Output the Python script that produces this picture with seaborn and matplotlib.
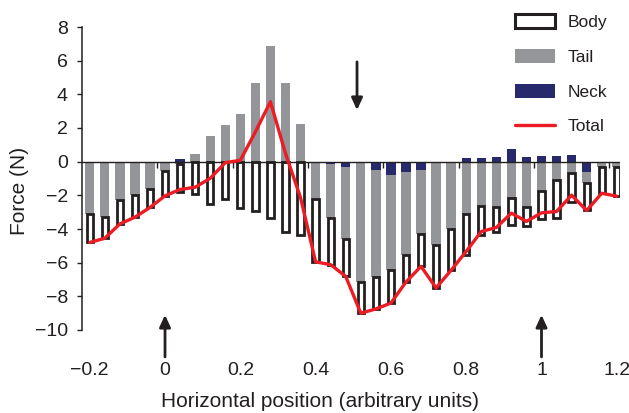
import numpy as np
import pandas as pd
import matplotlib
matplotlib.use("Agg")
import matplotlib.pyplot as plt
import seaborn as sns
from matplotlib.patches import Patch
from matplotlib.lines import Line2D

# ---------------- data ----------------
position = [-0.2, -0.16, -0.12, -0.08, -0.04, 0.0, 0.04, 0.08, 0.12, 0.16,
            0.2, 0.24, 0.28, 0.32, 0.36, 0.4, 0.44, 0.48, 0.52, 0.56,
            0.6, 0.64, 0.68, 0.72, 0.76, 0.8, 0.84, 0.88, 0.92, 0.96,
            1.0, 1.04, 1.08, 1.12, 1.16, 1.2]
tail = [-3.1, -3.3, -2.3, -2.0, -1.6, -0.55, -0.15, 0.43, 1.52, 2.17,
        2.85, 4.68, 6.88, 4.68, 2.21, -2.15, -3.18, -4.28, -7.1, -6.36,
        -5.62, -4.93, -3.81, -4.84, -4.0, -3.12, -2.61, -2.71, -2.17, -2.71,
        -1.74, -1.09, -0.65, -0.68, -0.3, -0.3]
neck = [0.0, 0.0, 0.0, 0.0, 0.0, 0.0, 0.15, 0.0, 0.0, 0.0,
        0.0, 0.0, 0.0, 0.0, 0.0, -0.08, -0.14, -0.3, -0.05, -0.5,
        -0.8, -0.6, -0.5, -0.1, 0.0, 0.2, 0.2, 0.28, 0.73, 0.3,
        0.36, 0.36, 0.38, -0.6, 0.0, 0.0]
body = [-1.7, -1.25, -1.4, -1.3, -1.12, -1.48, -1.65, -1.95, -2.51, -2.23,
        -2.77, -2.91, -3.32, -4.19, -4.35, -3.72, -2.8, -2.24, -1.85, -1.89,
        -1.98, -1.62, -1.91, -2.56, -2.45, -2.41, -1.74, -1.48, -1.62, -1.14,
        -1.66, -2.23, -1.72, -1.62, -1.58, -1.75]
total = [-4.8, -4.55, -3.7, -3.3, -2.72, -2.03, -1.65, -1.52, -0.99, -0.06,
         0.08, 1.77, 3.56, 0.49, -2.14, -5.95, -6.12, -6.82, -9.0, -8.75,
         -8.4, -7.15, -6.22, -7.5, -6.45, -5.33, -4.15, -3.91, -3.06, -3.55,
         -3.04, -2.96, -1.99, -2.9, -1.88, -2.05]

xtick_values = [-0.2, 0, 0.2, 0.4, 0.6, 0.8, 1, 1.2]
xtick_labels = ["\u22120.2", "0", "0.2", "0.4", "0.6", "0.8", "1", "1.2"]
ytick_values = [-10, -8, -6, -4, -2, 0, 2, 4, 6, 8]
zero_line_ticks = [-0.02, 0.18, 0.38, 0.58, 0.78, 0.98, 1.18]
up_arrow_x = [0.0, 1.0]
up_arrow_y = (-11.6, -9.1)
down_arrow_x = [0.51]
down_arrow_y = (5.93, 3.06)
legend_labels = ["Body", "Tail", "Neck", "Total"]

# ---------------- style ----------------
TAIL_C = "#939598"
NECK_C = "#262a6c"
RED_C = "#ec1c24"
INK = "#231f20"

sns.set_theme(style="white")
plt.rcParams["font.family"] = ["Liberation Sans", "DejaVu Sans"]
plt.rcParams["text.color"] = INK
plt.rcParams["axes.labelcolor"] = INK
plt.rcParams["xtick.color"] = INK
plt.rcParams["ytick.color"] = INK

fig = plt.figure(figsize=(6.29, 4.13), dpi=100)
ax = fig.add_axes([82 / 629, 1 - 330 / 413, (620 - 82) / 629, 303 / 413])

# stacking (positive parts upward, negative parts downward: neck, tail, body)
n = len(position)
pos_acc = np.zeros(n)
neg_acc = np.zeros(n)
bottoms = {}
for name, vals in [("neck", neck), ("tail", tail), ("body", body)]:
    v = np.asarray(vals, dtype=float)
    bottoms[name] = np.where(v >= 0, pos_acc, neg_acc)
    pos_acc = pos_acc + np.where(v >= 0, v, 0.0)
    neg_acc = neg_acc + np.where(v < 0, v, 0.0)

df = pd.DataFrame({"position": position, "tail": tail, "neck": neck,
                   "body": body, "total": total})

sns.barplot(data=df, x="position", y="tail", native_scale=True, width=0.62,
            bottom=bottoms["tail"], color=TAIL_C, saturation=1,
            edgecolor="none", linewidth=0, errorbar=None, ax=ax, zorder=1)
sns.barplot(data=df, x="position", y="neck", native_scale=True, width=0.62,
            bottom=bottoms["neck"], color=NECK_C, saturation=1,
            edgecolor="none", linewidth=0, errorbar=None, ax=ax, zorder=1)
sns.barplot(data=df, x="position", y="body", native_scale=True, width=0.42,
            bottom=bottoms["body"], color="white", saturation=1,
            edgecolor=INK, linewidth=2.0, errorbar=None, ax=ax, zorder=1.5)
sns.lineplot(data=df, x="position", y="total", color=RED_C, linewidth=2.4,
             ax=ax, zorder=4)

ax.axhline(0, color=INK, lw=1.0, zorder=2.5)

ax.set_xlim(-0.2205, 1.2085)
ax.set_ylim(-10, 8)
for side in ["top", "right", "bottom"]:
    ax.spines[side].set_visible(False)
ax.spines["left"].set_color(INK)
ax.spines["left"].set_linewidth(1.1)

ax.set_yticks(ytick_values)
ax.tick_params(axis="y", left=True, direction="out", length=3.6, width=1.0,
               pad=6.5, labelsize=14)
ax.set_xticks(xtick_values, labels=xtick_labels)
ax.tick_params(axis="x", bottom=True, length=0, pad=23, labelsize=14)

# small ticks on the zero line
sec = ax.secondary_xaxis(10 / 18)
sec.set_xticks(zero_line_ticks)
sec.tick_params(axis="x", top=True, bottom=False, direction="in", length=4,
                width=1.0, labeltop=False, labelbottom=False, color=INK)
for sp in sec.spines.values():
    sp.set_visible(False)

ax.set_xlabel("Horizontal position (arbitrary units)", fontsize=15)
ax.xaxis.set_label_coords(0.442, -0.205)
ax.set_ylabel("Force (N)", fontsize=15)
ax.yaxis.set_label_coords(-0.098, 0.459)

arrow_props = dict(arrowstyle="-|>,head_length=0.72,head_width=0.33",
                   color=INK, lw=2.0, shrinkA=0, shrinkB=0, mutation_scale=10)
for xa in up_arrow_x:
    ax.annotate("", xy=(xa, up_arrow_y[1]), xytext=(xa, up_arrow_y[0]),
                arrowprops=arrow_props, annotation_clip=False)
for xa in down_arrow_x:
    ax.annotate("", xy=(xa, down_arrow_y[1]), xytext=(xa, down_arrow_y[0]),
                arrowprops=arrow_props, annotation_clip=False)

handles = [Patch(facecolor="white", edgecolor=INK, linewidth=2.2),
           Patch(facecolor=TAIL_C, edgecolor="none"),
           Patch(facecolor=NECK_C, edgecolor="none"),
           Line2D([0], [0], color=RED_C, lw=2.4)]
fig.legend(handles, legend_labels, loc="upper left",
           bbox_to_anchor=(515 / 629, 1 - 14.5 / 413), frameon=False,
           borderpad=0, borderaxespad=0, fontsize=12.5, handlelength=2.3,
           handleheight=0.85, labelspacing=1.08, handletextpad=0.75)

fig.savefig("out.png", dpi=100)
